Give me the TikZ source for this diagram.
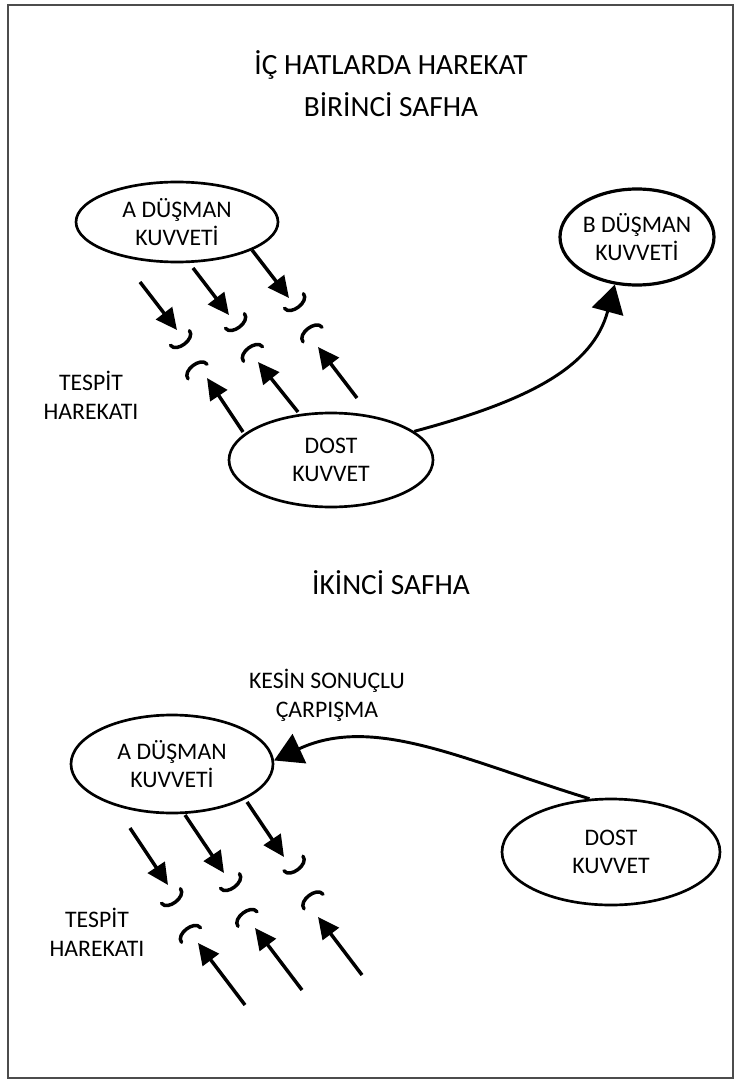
\documentclass[tikz,border=0pt]{standalone}
\usepackage{fontspec}
\setmainfont{Carlito}
\usetikzlibrary{shapes.geometric,arrows.meta}
\begin{document}
\begin{tikzpicture}[x=0.75pt,y=-0.75pt,
 ell/.style={draw, ellipse, line width=2pt, inner sep=0pt, align=center, font=\fontsize{17.8}{21.5}\selectfont},
 lab/.style={align=center, font=\fontsize{17.8}{22}\selectfont, inner sep=0pt},
 ttl/.style={font=\fontsize{22}{30}\selectfont, align=center, inner sep=0pt},
 arr/.style={line width=2.6pt, -{Triangle[length=16pt,width=15pt]}},
 big/.style={line width=2.2pt, -{Triangle[length=21pt,width=24pt]}},
 brk/.style={line width=2.6pt, line cap=round},
]
\useasboundingbox (0,0) rectangle (741,1084);
\draw[line width=1pt, black!70] (8,5) rectangle (733,1078);

% titles
\node[ttl] (t1) at (391,65) {İÇ HATLARDA HAREKAT};
\node[ttl] (t2) at (391,105) {BİRİNCİ SAFHA};
\node[ttl] (t3) at (391,583) {İKİNCİ SAFHA};

% first phase
\node[ell, minimum width=151.5pt, minimum height=60pt] (a1) at (177,222) {A DÜŞMAN\\KUVVETİ};
\node[ell, minimum width=153pt, minimum height=70.5pt] (d1) at (331,460) {DOST\\KUVVET};
\node[ell, minimum width=115.5pt, minimum height=72pt, line width=2.4pt] (b1) at (637,237) {B DÜŞMAN\\KUVVETİ};
\node[lab] (tp1) at (91,395) {TESPİT\\HAREKATI};

\draw[big] (d1.19) .. controls +(-15:120) and +(105:85) .. (b1.-115);

\draw[arr] (140,282) -- (177,330);
\draw[arr] (193,268) -- (229,315);
\draw[arr] (252,250) -- (289,298);
\draw[brk] (170.5,345.3) .. controls (176.6,353.2) and (195.6,338.6) .. (189.5,330.7);
\draw[brk] (225.5,328.3) .. controls (231.6,336.2) and (250.6,321.6) .. (244.5,313.7);
\draw[brk] (284.5,308.3) .. controls (290.6,316.2) and (309.6,301.6) .. (303.5,293.7);
\draw[brk] (188,378.8) .. controls (181.9,370.9) and (200.9,356.3) .. (207,364.2);
\draw[brk] (243.5,361.3) .. controls (237.4,353.4) and (256.4,338.8) .. (262.5,346.7);
\draw[brk] (303,341.8) .. controls (296.9,333.9) and (315.9,319.3) .. (322,327.2);
\draw[arr] (243,432) -- (207,378);
\draw[arr] (298,412) -- (258,362);
\draw[arr] (357,398) -- (318,347);

% second phase
\node[ell, minimum width=151.5pt, minimum height=73.5pt] (a2) at (172,764) {A DÜŞMAN\\KUVVETİ};
\node[ell, minimum width=163.5pt, minimum height=79.5pt] (d2) at (611,852) {DOST\\KUVVET};
\node[lab] (ks) at (327,695) {KESİN SONUÇLU\\ÇARPIŞMA};
\node[lab] (tp2) at (97,932) {TESPİT\\HAREKATI};

\draw[big] (d2.112) .. controls +(-163:130) and +(-25:110) .. (a2.2);

\draw[arr] (130,828) -- (168,885);
\draw[arr] (185,815) -- (224,873);
\draw[arr] (247,802) -- (284,857);
\draw[brk] (161.5,903.3) .. controls (167.6,911.2) and (186.6,896.6) .. (180.5,888.7);
\draw[brk] (220.5,888.3) .. controls (226.6,896.2) and (245.6,881.6) .. (239.5,873.7);
\draw[brk] (284,870.8) .. controls (290.1,878.7) and (309.1,864.1) .. (303,856.2);
\draw[brk] (181.5,942.3) .. controls (175.4,934.4) and (194.4,919.8) .. (200.5,927.7);
\draw[brk] (238,926.3) .. controls (231.9,918.4) and (250.9,903.8) .. (257,911.7);
\draw[brk] (304,908.8) .. controls (297.9,900.9) and (316.9,886.3) .. (323,894.2);
\draw[arr] (245,1005) -- (198,943);
\draw[arr] (302,990) -- (255,928);
\draw[arr] (362,975) -- (318,917);
\end{tikzpicture}
\end{document}
